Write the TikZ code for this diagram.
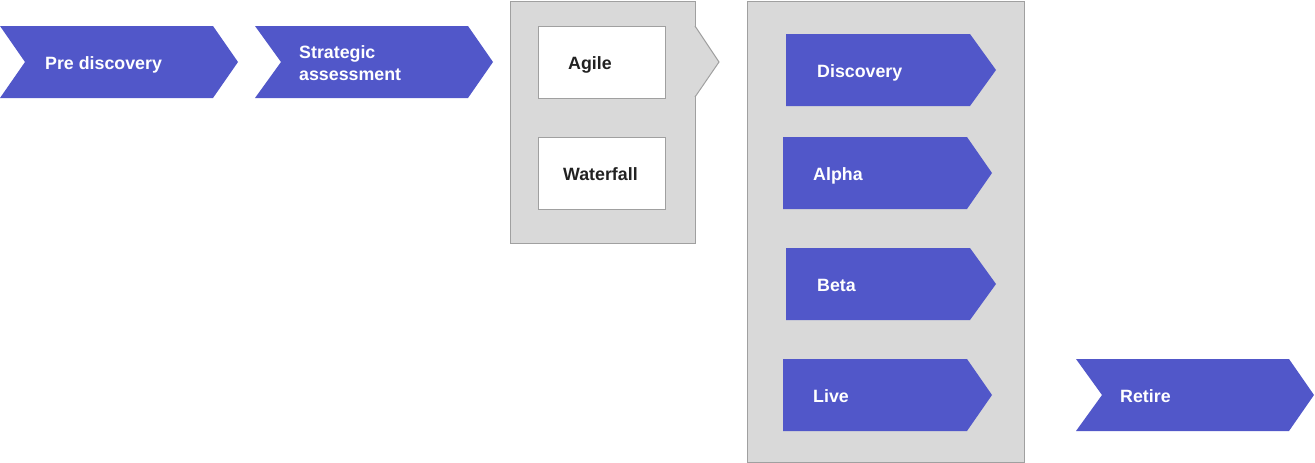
\documentclass[tikz,border=0pt]{standalone}
\usepackage{fontspec}
\setmainfont{Liberation Sans}
\usetikzlibrary{positioning}
\definecolor{mblue}{RGB}{81,87,201}
\definecolor{mgrey}{RGB}{217,217,217}
\definecolor{mline}{RGB}{160,160,160}
\definecolor{mtext}{RGB}{34,34,34}

\begin{document}
\begin{tikzpicture}[x=1pt, y=-1pt,
    stage/.style={fill=mblue},
    phasebox/.style={fill=mgrey, draw=mline, line width=1pt},
    method/.style={fill=white, draw=mline, line width=1pt, inner sep=0pt},
    stagetext/.style={anchor=base west, text=white, inner sep=0pt,
      font=\bfseries\fontsize{17.8}{22}\selectfont, align=left},
    methodtext/.style={stagetext, text=mtext}]
    \useasboundingbox (0,0) rectangle (1315,463);

    % first steps
    \fill [stage] (0,26) -- (213,26) -- (238,62) -- (213,98) -- (0,98) -- (25,62) -- cycle;
    \node [stagetext] (pre) at (45,69) {Pre discovery};
    \fill [stage] (255,26) -- (468,26) -- (493,62) -- (468,98) -- (255,98) -- (281,62) -- cycle;
    \node [stagetext, anchor=west] (strategic) at (299,63) {Strategic\\assessment};

    % method choice
    \draw [phasebox] (510,1) rectangle (695,243);
    \fill [mgrey] (694.5,26) -- (719,62) -- (694.5,97) -- cycle;
    \draw [mline, line width=1pt] (695,26) -- (719,62) -- (695,97);
    \node [method, minimum width=127, minimum height=72] (agile) at (601.5,62) {};
    \node [methodtext] (agiletext) at (568,69) {Agile};
    \node [method, minimum width=127, minimum height=72] (waterfall) at (601.5,173) {};
    \node [methodtext] (waterfalltext) at (563,180) {Waterfall};

    % delivery phases
    \draw [phasebox] (747,1) rectangle (1024,462);
    \fill [stage] (786,34) -- (970,34) -- (996,70) -- (970,106) -- (786,106) -- cycle;
    \node [stagetext] (discovery) at (817,77) {Discovery};
    \fill [stage] (783,137) -- (967,137) -- (992,173) -- (967,209) -- (783,209) -- cycle;
    \node [stagetext] (alpha) at (813,180) {Alpha};
    \fill [stage] (786,248) -- (970,248) -- (996,284) -- (970,320) -- (786,320) -- cycle;
    \node [stagetext] (beta) at (817,291) {Beta};
    \fill [stage] (783,359) -- (967,359) -- (992,395) -- (967,431) -- (783,431) -- cycle;
    \node [stagetext] (live) at (813,402) {Live};

    % end
    \fill [stage] (1076,359) -- (1289,359) -- (1314,395) -- (1289,431) -- (1076,431) -- (1102,395) -- cycle;
    \node [stagetext] (retire) at (1120,402) {Retire};
\end{tikzpicture}
\end{document}
